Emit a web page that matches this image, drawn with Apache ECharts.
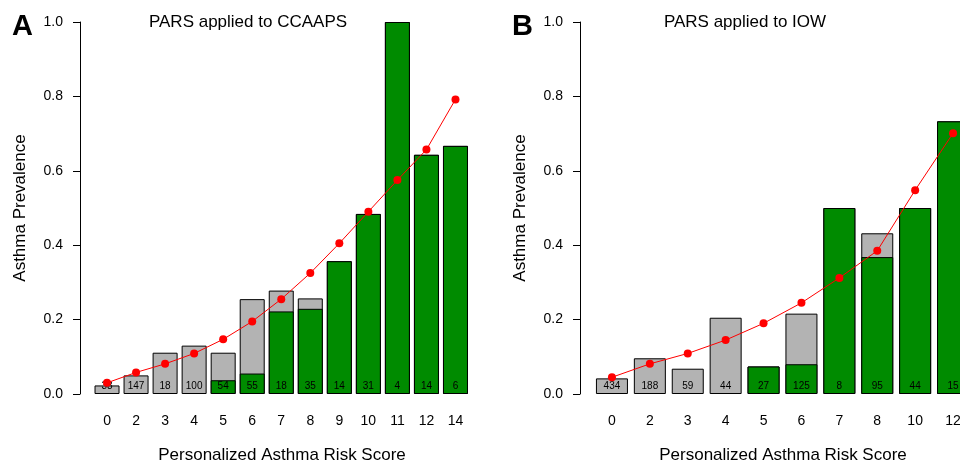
<!DOCTYPE html>
<html>
<head>
<meta charset="utf-8">
<script src="https://cdn.jsdelivr.net/npm/echarts@6/dist/echarts.min.js"></script>
<style>
html,body{margin:0;padding:0;background:#fff;overflow:hidden;width:960px;height:462px;}
#chart{width:1000px;height:462px;}
</style>
</head>
<body>
<div id="chart"></div>
<script>
// Panel A: PARS applied to CCAAPS
const catA = ['0','2','3','4','5','6','7','8','9','10','11','12','14'];
const countA = [33,147,18,100,54,55,18,35,14,31,4,14,6];
const totalA = [0.023,0.050,0.111,0.130,0.111,0.255,0.278,0.257,0.357,0.484,1.000,0.643,0.667];
const greenA = [null,null,null,null,0.037,0.055,0.222,0.229,0.357,0.484,1.000,0.643,0.667];
const predA = [0.030,0.058,0.081,0.109,0.147,0.195,0.255,0.325,0.405,0.490,0.575,0.657,0.792];

// Panel B: PARS applied to IOW
const catB = ['0','2','3','4','5','6','7','8','10','12'];
const countB = [434,188,59,44,27,125,8,95,44,15];
const totalB = [0.042,0.096,0.068,0.205,0.074,0.216,0.500,0.432,0.500,0.733];
const greenB = [null,null,null,null,0.074,0.080,0.500,0.368,0.500,0.733];
const predB = [0.045,0.081,0.109,0.145,0.190,0.245,0.312,0.385,0.548,0.701];

const yTicks = [0,0.2,0.4,0.6,0.8,1.0];

const FONT = '"Liberation Sans", Arial, Helvetica, sans-serif';
const GRAY = '#b3b3b3';
const GREEN = '#008b00';
const RED = '#ff0000';

function yAxis(gi, off){
  return {
    type:'value', gridIndex:gi, min:yTicks[0], max:yTicks[yTicks.length-1], interval:0.2,
    offset: off,
    axisLine:{show:true, lineStyle:{color:'#000', width:1}},
    axisTick:{show:true, length:7, lineStyle:{color:'#000', width:1}},
    axisLabel:{color:'#000', fontSize:14, fontFamily:FONT, margin:17,
      formatter:v=>v.toFixed(1)},
    splitLine:{show:false}
  };
}
function xAxis(gi, cats){
  return {
    type:'category', gridIndex:gi, data:cats,
    axisLine:{show:false}, axisTick:{show:false},
    axisLabel:{color:'#000', fontSize:14, fontFamily:FONT, margin:20, interval:0}
  };
}
function panelSeries(gi, total, green, counts, pred, bw){
  return [
    {type:'bar', xAxisIndex:gi, yAxisIndex:gi, data:total, barWidth:bw, barGap:'-100%',
      itemStyle:{color:GRAY, borderColor:'#000', borderWidth:1}, z:2, silent:true},
    {type:'bar', xAxisIndex:gi, yAxisIndex:gi, data:green, barWidth:bw, barGap:'-100%',
      itemStyle:{color:GREEN, borderColor:'#000', borderWidth:1}, z:3, silent:true},
    {type:'bar', xAxisIndex:gi, yAxisIndex:gi, data:total, barWidth:bw, barGap:'-100%',
      itemStyle:{color:'rgba(0,0,0,0)', borderWidth:0}, z:4, silent:true,
      label:{show:true, position:'insideBottom', distance:3, color:'#000', fontSize:10, fontFamily:FONT,
        formatter:p=>String(counts[p.dataIndex])}},
    {type:'line', xAxisIndex:gi, yAxisIndex:gi, data:pred, symbol:'circle', symbolSize:8,
      itemStyle:{color:RED}, lineStyle:{color:RED, width:1}, z:5, silent:true}
  ];
}

const chart = echarts.init(document.getElementById('chart'), null, {renderer:'canvas'});
chart.setOption({
  animation:false,
  backgroundColor:'#fff',
  grid:[
    {left:92.5, width:377.5, top:22, height:372},
    {left:593, width:379, top:22, height:372}
  ],
  xAxis:[xAxis(0, catA), xAxis(1, catB)],
  yAxis:[yAxis(0, 12.5), yAxis(1, 13)],
  series:[].concat(
    panelSeries(0, totalA, greenA, countA, predA, 25),
    panelSeries(1, totalB, greenB, countB, predB, 32)
  ),
  graphic:[
    {type:'text', left:12, top:12, style:{text:'A', font:'bold 29px '+FONT, fill:'#000'}},
    {type:'text', left:512, top:12, style:{text:'B', font:'bold 29px '+FONT, fill:'#000'}},
    {type:'text', x:248, y:22, style:{text:'PARS applied to CCAAPS', font:'17px '+FONT, fill:'#000', align:'center', verticalAlign:'middle'}},
    {type:'text', x:745, y:22, style:{text:'PARS applied to IOW', font:'17px '+FONT, fill:'#000', align:'center', verticalAlign:'middle'}},
    {type:'text', x:282, y:455, style:{text:'Personalized Asthma Risk Score', font:'17px '+FONT, fill:'#000', align:'center', verticalAlign:'middle'}},
    {type:'text', x:783, y:455, style:{text:'Personalized Asthma Risk Score', font:'17px '+FONT, fill:'#000', align:'center', verticalAlign:'middle'}},
    {type:'text', x:20, y:208, rotation:Math.PI/2, style:{text:'Asthma Prevalence', font:'17px '+FONT, fill:'#000', align:'center', verticalAlign:'middle'}},
    {type:'text', x:520, y:208, rotation:Math.PI/2, style:{text:'Asthma Prevalence', font:'17px '+FONT, fill:'#000', align:'center', verticalAlign:'middle'}}
  ]
});
</script>
</body>
</html>
